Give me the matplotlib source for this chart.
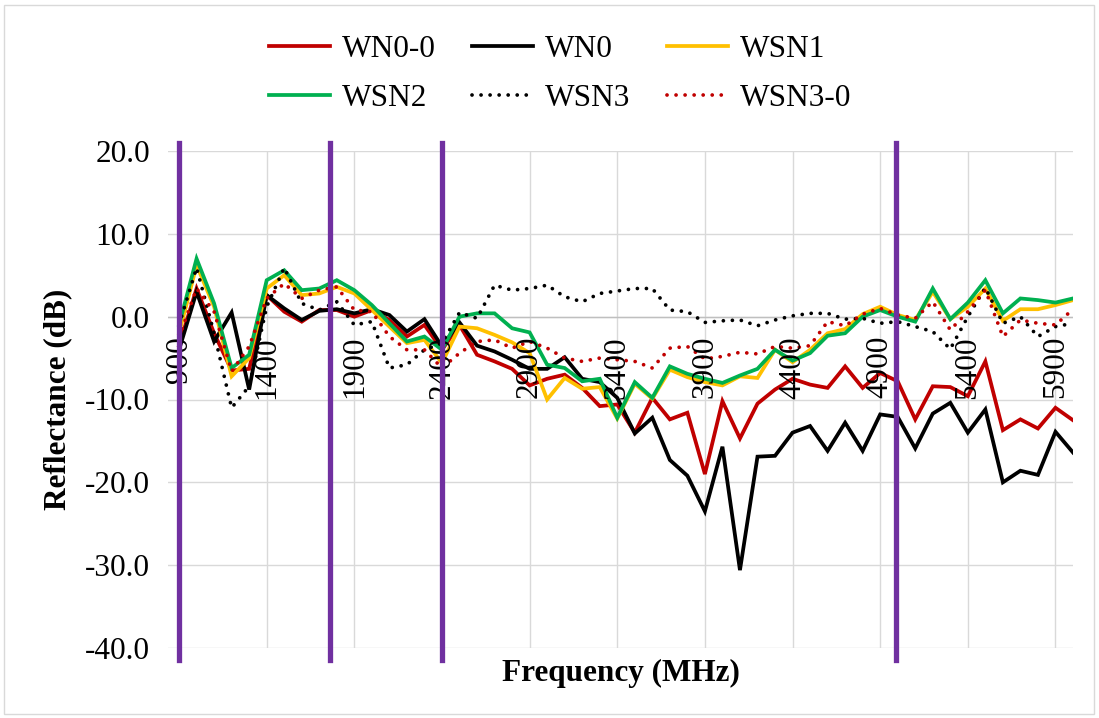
import matplotlib
matplotlib.use("Agg")
import matplotlib.pyplot as plt
from matplotlib.patches import Rectangle

plt.rcParams["font.family"] = ["Liberation Serif", "DejaVu Serif"]

# Frequency sweep (MHz)
freq = list(range(900, 6001, 100))

wn0_0 = [-3.5, 3.4, -2.0, -6.5, -6.3, 2.6, 0.6, -0.6, 0.8, 0.8,
         0.0, 0.8, -0.4, -2.4, -1.0, -4.0, -1.0, -4.6, -5.4, -6.3,
         -8.3, -7.5, -7.0, -8.6, -10.8, -10.6, -14.0, -9.8, -12.4, -11.6,
         -19.0, -10.2, -14.7, -10.5, -8.8, -7.5, -8.2, -8.6, -6.0, -8.6,
         -6.8, -7.8, -12.4, -8.4, -8.5, -9.6, -5.4, -13.7, -12.4, -13.5,
         -11.0, -12.5]

wn0 = [-4.0, 3.0, -3.0, 0.5, -8.8, 2.6, 1.0, -0.4, 0.7, 0.9,
       0.4, 0.9, 0.2, -1.8, -0.3, -3.6, -0.7, -3.5, -4.2, -5.2,
       -6.3, -6.3, -4.9, -7.5, -7.9, -9.8, -14.1, -12.2, -17.3, -19.2,
       -23.5, -15.7, -30.6, -16.9, -16.8, -14.0, -13.2, -16.2, -12.8, -16.2,
       -11.8, -12.1, -15.9, -11.7, -10.4, -14.0, -11.2, -20.0, -18.6, -19.1,
       -13.9, -16.4]

wsn1 = [-2.0, 6.2, 1.2, -7.2, -5.0, 3.4, 5.0, 2.6, 2.8, 3.6,
        2.8, 0.8, -1.2, -3.2, -2.8, -5.6, -1.2, -1.4, -2.2, -3.1,
        -4.4, -10.0, -7.4, -8.7, -8.5, -12.3, -8.1, -9.9, -6.4, -7.3,
        -7.9, -8.3, -7.2, -7.4, -4.0, -5.5, -4.0, -2.0, -1.5, 0.3,
        1.2, 0.2, -0.4, 3.0, -0.3, 1.2, 3.4, -0.5, 0.9, 0.9,
        1.4, 2.0]

wsn2 = [-1.0, 7.0, 1.6, -6.2, -4.6, 4.4, 5.6, 3.2, 3.4, 4.4,
        3.2, 1.4, -0.8, -3.0, -2.4, -4.0, 0.0, 0.4, 0.4, -1.4,
        -1.9, -5.8, -6.2, -7.8, -7.5, -12.2, -7.9, -9.8, -6.0, -6.9,
        -7.5, -8.0, -7.1, -6.3, -4.0, -5.3, -4.4, -2.3, -2.0, 0.0,
        0.8, 0.0, -0.6, 3.4, -0.3, 1.7, 4.4, 0.4, 2.2, 2.0,
        1.7, 2.2]

wsn3 = [-1.0, 5.9, -2.0, -11.0, -8.4, 1.2, 5.9, 1.6, 0.8, 1.8,
        -1.0, -0.6, -6.2, -5.8, -4.0, -3.2, 0.5, -0.2, 3.8, 3.2,
        3.4, 3.8, 2.4, 1.8, 2.8, 3.1, 3.4, 3.4, 0.8, 0.6,
        -0.7, -0.5, -0.4, -1.1, -0.4, 0.1, 0.4, 0.4, -0.3, -0.2,
        -0.8, -0.6, -1.2, -1.8, -3.9, 0.0, 3.5, -0.8, 0.0, -2.4,
        -1.2, -0.8]

wsn3_0 = [-2.5, 3.4, 0.6, -6.6, -3.6, 2.2, 4.0, 2.2, 3.2, 3.6,
          0.8, 0.6, -2.4, -4.0, -4.0, -6.2, -4.4, -3.0, -2.8, -3.8,
          -3.0, -3.8, -5.0, -5.4, -5.0, -5.2, -5.4, -6.2, -3.8, -3.6,
          -5.1, -4.8, -4.3, -4.5, -3.6, -3.8, -3.5, -0.6, -1.1, 0.3,
          1.0, 0.2, -0.2, 1.8, -1.6, 0.6, 3.2, -2.4, -0.4, -0.8,
          -1.0, 0.9]

series_names = ["WN0-0", "WN0", "WSN1", "WSN2", "WSN3", "WSN3-0"]
series_values = [wn0_0, wn0, wsn1, wsn2, wsn3, wsn3_0]

# Category labels shown along the frequency axis
tick_freqs = [900, 1400, 1900, 2400, 2900, 3400, 3900, 4400, 4900, 5400, 5900]
tick_labels = [str(f) for f in tick_freqs]
y_ticks = [-40, -30, -20, -10, 0, 10, 20]

# Frequency band markers
band_markers = [900, 1760, 2400, 4990]

styles = [
    dict(color="#C00000", linestyle="-"),
    dict(color="#000000", linestyle="-"),
    dict(color="#FFC000", linestyle="-"),
    dict(color="#00B050", linestyle="-"),
    dict(color="#000000", linestyle=(0, (0.01, 2.4)), dash_capstyle="round"),
    dict(color="#C00000", linestyle=(0, (0.01, 2.4)), dash_capstyle="round"),
]

W, H = 1099, 718
fig = plt.figure(figsize=(W / 100, H / 100), dpi=100)
ax = fig.add_axes([168 / W, 1 - 648 / H, (1073 - 168) / W, (648 - 151) / H])

FS = 22.5

handles = []
for name, vals, st in zip(series_names, series_values, styles):
    (ln,) = ax.plot(freq, vals, lw=2.7, label=name, solid_joinstyle="miter", **st)
    handles.append(ln)

ax.set_xlim(837, 6000)
ax.set_ylim(-40, 20)

# grid
ax.set_xticks(tick_freqs)
ax.set_xticklabels([])
ax.set_yticks(y_ticks)
ax.set_yticklabels([f"{v:.1f}" for v in y_ticks], fontsize=FS)
ax.tick_params(axis="both", length=0)
ax.tick_params(axis="y", pad=13)
ax.grid(True, color="#D9D9D9", lw=1.0)
ax.set_axisbelow(True)
for sp in ax.spines.values():
    sp.set_visible(False)
ax.axhline(0, color="#BFBFBF", lw=1.0, zorder=1)

# rotated category labels sitting just under the zero line
for f, lab in zip(tick_freqs, tick_labels):
    ax.annotate(lab, xy=(f, 0), xycoords="data", xytext=(0, -14),
                textcoords="offset points", rotation=90, ha="center",
                va="top", fontsize=FS, zorder=2)

# band marker lines
for bx in band_markers:
    ax.axvline(bx, ymin=-0.024, ymax=1.016, color="#7030A0", lw=3.8,
               clip_on=False, zorder=5)

ax.set_ylabel("Reflectance (dB)", fontsize=FS, fontweight="bold")
ax.set_xlabel("Frequency (MHz)", fontsize=FS, fontweight="bold")
ax.xaxis.set_label_coords(0.5, -0.022)
ax.yaxis.set_label_coords(-0.106, 0.5)

# legend laid out row by row
order = [0, 3, 1, 4, 2, 5]
fig.legend([handles[i] for i in order], [series_names[i] for i in order],
           loc="center", bbox_to_anchor=(560 / W, 1 - 74 / H), ncol=3,
           frameon=False, fontsize=FS, handlelength=1.95, handletextpad=0.4,
           columnspacing=1.15, labelspacing=0.62, borderpad=0)

fig.patches.append(Rectangle((4 / W, 4 / H), 1 - 9 / W, 1 - 9 / H,
                             transform=fig.transFigure, fill=False,
                             edgecolor="#D9D9D9", lw=1.0))

fig.savefig("out.png", dpi=100)
